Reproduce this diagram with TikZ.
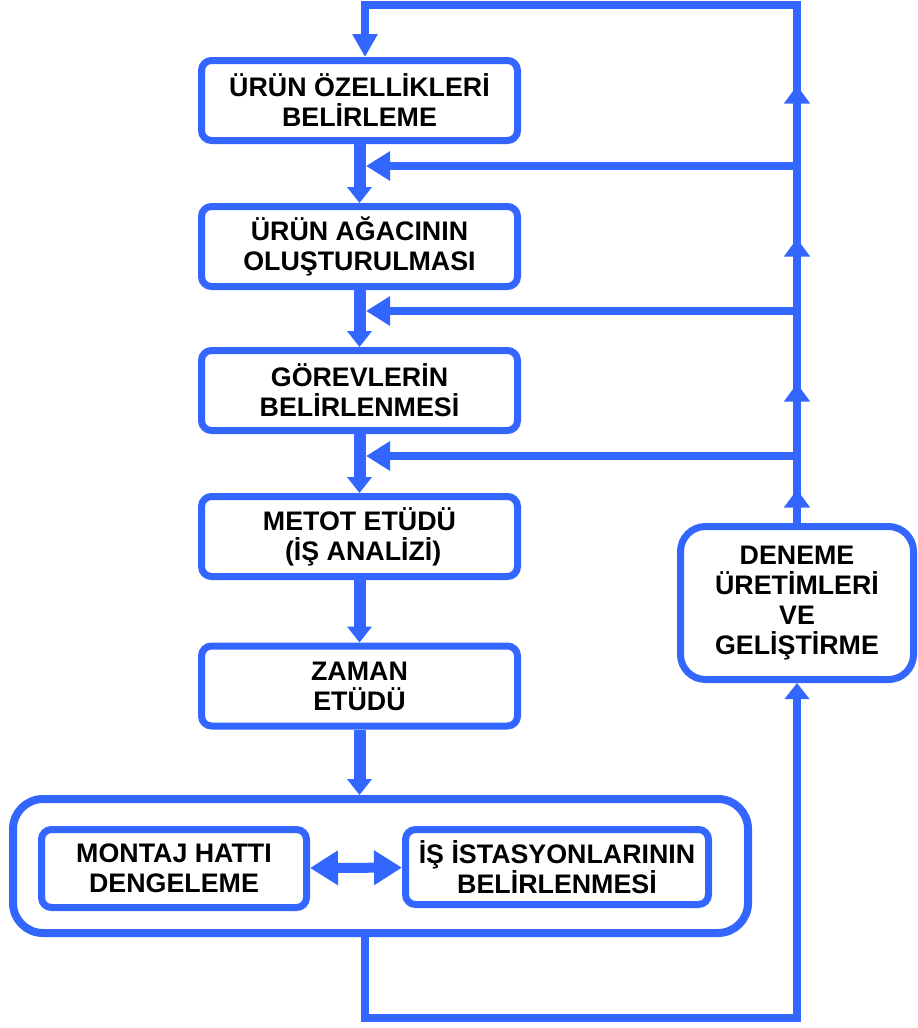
\documentclass[tikz,border=0pt]{standalone}
\usepackage{fontspec}
\setmainfont{Liberation Sans}
\usetikzlibrary{arrows.meta,decorations.markings}
\definecolor{akis}{RGB}{51,102,255}
\tikzset{
  kutu/.style={draw=akis,line width=3.5pt,rounded corners=5pt,fill=white,align=center,
    font=\fontsize{13.4}{15}\selectfont\bfseries,minimum width=158pt,minimum height=40pt,inner sep=0pt},
  ana/.style={akis,line width=6pt,-{Triangle[length=8pt,width=12pt]}},
  geri/.style={akis,line width=3.75pt},
  ucgeri/.style={geri,-{Triangle[length=12pt,width=14pt]}},
  orta/.style={geri,line cap=rect,postaction={decorate},
    decoration={markings,mark=at position 0.5 with {\arrow{Triangle[length=9pt,width=12.5pt]}}}},
  cift/.style={akis,line width=5pt,{Triangle[length=14pt,width=16.5pt]}-{Triangle[length=14pt,width=16.5pt]}}
}
\begin{document}
\begin{tikzpicture}[x=0.5pt,y=-0.5pt]
  \useasboundingbox (0,0) rectangle (917,1028);
  % ana akis kutulari
  \node[kutu] (k1) at (359.5,100.5) {ÜRÜN ÖZELLİKLERİ\\BELİRLEME};
  \node[kutu] (k2) at (359.5,246.5) {ÜRÜN AĞACININ\\OLUŞTURULMASI};
  \node[kutu] (k3) at (359.5,390.5) {GÖREVLERİN\\BELİRLENMESİ};
  \node[kutu] (k4) at (359.5,536.5) {METOT ETÜDÜ\\\ (İŞ ANALİZİ)};
  \node[kutu] (k5) at (359.5,686) {ZAMAN\\ETÜDÜ};
  % montaj grubu
  \node[kutu,line width=4pt,rounded corners=15pt,minimum width=367.5pt,minimum height=67pt] (hat) at (380.5,866) {};
  \node[kutu,minimum width=132.5pt,minimum height=39pt] (mh) at (174,868.5) {MONTAJ HATTI\\DENGELEME};
  \node[kutu,minimum width=151.5pt,minimum height=37.5pt] (is) at (557,867) {İŞ İSTASYONLARININ\\BELİRLENMESİ};
  \node[kutu,rounded corners=12.5pt,minimum width=116.5pt,minimum height=76.5pt] (d) at (797,603) {DENEME\\ÜRETİMLERİ\\VE\\GELİŞTİRME};
  % yardimci noktalar
  \coordinate (r1) at (797,166);
  \coordinate (r2) at (797,311);
  \coordinate (r3) at (797,456);
  \coordinate (m1) at (366,166);
  \coordinate (m2) at (366,311);
  \coordinate (m3) at (366,456);
  \coordinate (ust1) at (797,5);
  \coordinate (ust2) at (365,5);
  \coordinate (alt1) at (365,1018);
  \coordinate (alt2) at (797,1018);
  % ana akis oklari
  \draw[ana] (k1) -- (k2);
  \draw[ana] (k2) -- (k3);
  \draw[ana] (k3) -- (k4);
  \draw[ana] (k4) -- (k5);
  \draw[ana] (k5) -- (k5 |- hat.north);
  \draw[cift] (mh) -- (is);
  % geri besleme
  \draw[geri,-{Triangle[length=8pt,width=12pt]}] (hat.south -| alt1) -- (alt1) -- (alt2) -- (d.south);
  \draw[orta] (d.north) -- (r3);
  \draw[orta] (r3) -- (r2);
  \draw[orta] (r2) -- (r1);
  \draw[orta] (r1) -- (ust1);
  \draw[geri,-{Triangle[length=11.5pt,width=12pt]}] (ust1) -- (ust2) -- (ust2 |- k1.north);
  \foreach \i in {1,2,3}
    \draw[ucgeri] (r\i) -- (m\i);
\end{tikzpicture}
\end{document}
